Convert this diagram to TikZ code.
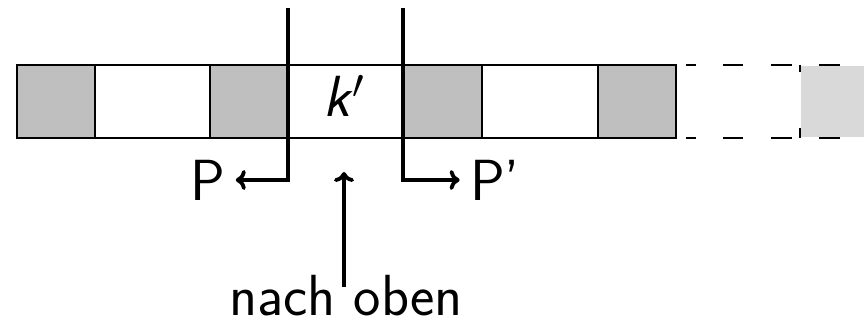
\documentclass[tikz,border=0pt]{standalone}
\usetikzlibrary{arrows.meta,calc}
\definecolor{cellgray}{RGB}{191,191,191}
\definecolor{lightcell}{RGB}{217,217,217}
\begin{document}
\begin{tikzpicture}[x=0.5pt,y=-0.5pt,
  cellbox/.style={draw,line width=1pt,minimum height=36.5pt,inner sep=0pt,outer sep=0pt},
  narrowcell/.style={cellbox,minimum width=39pt,fill=cellgray},
  widecell/.style={cellbox,minimum width=58pt,fill=white},
  bigarrow/.style={line width=1.9pt,-{To[length=5pt,width=10pt]}},
  lbl/.style={font=\fontsize{29}{34}\selectfont\sffamily,inner sep=5pt}]
\useasboundingbox (0,0) rectangle (864,325);
% cells
\node[narrowcell] (c1) at (56,101.5) {};
\node[widecell]   (c2) at (152.5,101.5) {};
\node[narrowcell] (c3) at (249,101.5) {};
\node[widecell]   (c4) at (345.5,101.5) {};
\node[narrowcell] (c5) at (443,101.5) {};
\node[widecell]   (c6) at (539.5,101.5) {};
\node[narrowcell] (c7) at (637,101.5) {};
% faded continuation
\fill[lightcell] (801,66) rectangle (864,137);
\coordinate (dtl) at (676,65);
\coordinate (dbl) at (676,138);
\coordinate (dtr) at (864,65);
\coordinate (dbr) at (864,138);
\draw[line width=1pt,dash pattern=on 0pt off 5pt on 5pt off 13.5pt on 10pt off 14pt on 10.5pt off 13.5pt on 10.5pt off 60pt] (dtl) -- (dtr);
\draw[line width=1pt,dash pattern=on 0pt off 5pt on 5pt off 13.5pt on 10pt off 14pt on 10.5pt off 13.5pt on 10.5pt off 60pt] (dbl) -- (dbr);
\coordinate (vt) at (800,65);
\coordinate (vb) at (800,138);
\draw[line width=1pt,dash pattern=on 3.5pt off 28pt on 5pt off 20pt] (vt) -- (vb);
% label in cell
\node[font=\fontsize{29}{34}\selectfont\sffamily,inner sep=0pt] (k) at (344,96) {\itshape k\kern1.5pt$'$};
% P and P'
\node[lbl] (P) at (208,180) {P};
\node[lbl] (Pp) at (495,180) {P'};
\coordinate (tl) at (288,8);
\coordinate (tr) at (403,8);
\draw[bigarrow] (tl) |- (P.east);
\draw[bigarrow] (tr) |- (Pp.west);
% nach oben
\node[lbl,inner sep=1pt] (no) at (346,296) {nach oben};
\coordinate (up) at (344,172);
\draw[bigarrow] ([xshift=-1pt,yshift=4.5pt]no.center) -- (up);
\end{tikzpicture}
\end{document}
